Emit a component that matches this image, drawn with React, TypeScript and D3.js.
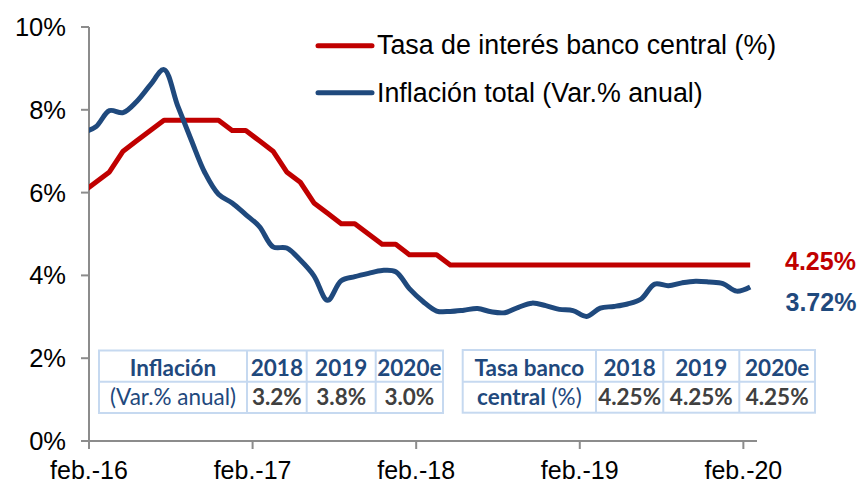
import React from "react";
import * as d3 from "d3";

// Months from Jan 2016 (index -1) to Feb 2020 (index 48)
const monthIndex = [
  -1, 0, 1, 2, 3, 4, 5, 6, 7, 8, 9, 10, 11, 12, 13, 14, 15, 16, 17, 18, 19, 20, 21, 22, 23, 24,
  25, 26, 27, 28, 29, 30, 31, 32, 33, 34, 35, 36, 37, 38, 39, 40, 41, 42, 43, 44, 45, 46, 47, 48,
];

const tasaBanco = [
  6.0, 6.25, 6.5, 7.0, 7.25, 7.5, 7.75, 7.75, 7.75, 7.75, 7.75, 7.5, 7.5, 7.25, 7.0, 6.5, 6.25,
  5.75, 5.5, 5.25, 5.25, 5.0, 4.75, 4.75, 4.5, 4.5, 4.5, 4.25, 4.25, 4.25, 4.25, 4.25, 4.25, 4.25,
  4.25, 4.25, 4.25, 4.25, 4.25, 4.25, 4.25, 4.25, 4.25, 4.25, 4.25, 4.25, 4.25, 4.25, 4.25, 4.25,
];

const inflacion = [
  7.45, 7.59, 7.98, 7.93, 8.2, 8.6, 8.97, 8.1, 7.27, 6.48, 5.96, 5.75, 5.47, 5.18, 4.69, 4.66,
  4.37, 3.99, 3.4, 3.87, 3.97, 4.05, 4.12, 4.09, 3.68, 3.37, 3.14, 3.13, 3.16, 3.2, 3.12, 3.1, 3.23,
  3.33, 3.27, 3.18, 3.15, 3.01, 3.21, 3.25, 3.31, 3.43, 3.79, 3.75, 3.82, 3.86, 3.84, 3.8, 3.62,
  3.72,
];

const yTicks = [0, 2, 4, 6, 8, 10];
const xTickIndex = [0, 12, 24, 36, 48];
const xTickLabels = ["feb.-16", "feb.-17", "feb.-18", "feb.-19", "feb.-20"];

const legendLabels = ["Tasa de interés banco central (%)", "Inflación total (Var.% anual)"];
const endLabels = ["4.25%", "3.72%"];

const tableYears = ["2018", "2019", "2020e"];
const inflTable = ["3.2%", "3.8%", "3.0%"];
const tasaTable = ["4.25%", "4.25%", "4.25%"];

const RED = "#C00000";
const BLUE = "#1F497D";
const AXIS = "#8C8C8C";
const BORDER = "#C6D9F0";
const GRAY = "#404040";

export default function App() {
  const W = 863;
  const H = 484;
  const x = d3.scaleLinear().domain([0, 49]).range([89, 757]);
  const y = d3.scaleLinear().domain([0, 10]).range([441, 27]);

  const redLine = d3
    .line<number>()
    .x((_, i) => x(monthIndex[i] + 0.5))
    .y((d) => y(d));
  const blueLine = d3
    .line<number>()
    .x((_, i) => x(monthIndex[i] + 0.5))
    .y((d) => y(d))
    .curve(d3.curveCatmullRom.alpha(0.5));

  const arial = "'Liberation Sans', Arial, sans-serif";
  const cal = "Lato, 'Open Sans', sans-serif";
  const tfs = 22.5;

  const table = (
    x0: number,
    cols: number[],
    top: number,
    mid: number,
    bottom: number,
    head1: React.ReactNode,
    head2: React.ReactNode,
    values: string[]
  ) => {
    const edges = [x0, ...cols];
    return (
      <g>
        <rect x={x0} y={top} width={cols[cols.length - 1] - x0} height={bottom - top} fill="#fff" stroke={BORDER} strokeWidth={2} />
        <line x1={x0} x2={cols[cols.length - 1]} y1={mid} y2={mid} stroke={BORDER} strokeWidth={2} />
        {cols.slice(0, -1).map((c, i) => (
          <line key={i} x1={c} x2={c} y1={top} y2={bottom} stroke={BORDER} strokeWidth={2} />
        ))}
        <text x={(edges[0] + edges[1]) / 2} y={376} textAnchor="middle" fontFamily={cal} fontSize={tfs} fill={BLUE}>
          {head1}
        </text>
        <text x={(edges[0] + edges[1]) / 2} y={405} textAnchor="middle" fontFamily={cal} fontSize={tfs} fill={BLUE}>
          {head2}
        </text>
        {tableYears.map((t, i) => (
          <text key={t} x={(edges[i + 1] + edges[i + 2]) / 2} y={376} textAnchor="middle" fontFamily={cal} fontSize={tfs} fontWeight="bold" fill={BLUE}>
            {t}
          </text>
        ))}
        {values.map((t, i) => (
          <text key={i} x={(edges[i + 1] + edges[i + 2]) / 2} y={405} textAnchor="middle" fontFamily={cal} fontSize={tfs} fontWeight="bold" fill={GRAY}>
            {t}
          </text>
        ))}
      </g>
    );
  };

  return (
    <div style={{ position: "absolute", left: 0, top: 0 }}>
      <svg width={W} height={H} style={{ display: "block" }}>
        <defs>
          <clipPath id="plot">
            <rect x={x(0)} y={0} width={x(49) - x(0)} height={H} />
          </clipPath>
        </defs>
        <rect width={W} height={H} fill="#fff" />

        {/* Axes */}
        <line x1={x(0)} x2={x(0)} y1={y(10)} y2={y(0)} stroke={AXIS} strokeWidth={2} />
        <line x1={x(0)} x2={x(49)} y1={y(0)} y2={y(0)} stroke={AXIS} strokeWidth={2} />
        {yTicks.map((t) => (
          <g key={t}>
            <line x1={x(0) - 8} x2={x(0)} y1={y(t)} y2={y(t)} stroke={AXIS} strokeWidth={2} />
            <text x={66} y={y(t) + 9} textAnchor="end" fontFamily={arial} fontSize={25.5} fill="#000">
              {t}%
            </text>
          </g>
        ))}
        {xTickIndex.map((t, i) => (
          <g key={t}>
            <line x1={x(t)} x2={x(t)} y1={y(0)} y2={y(0) + 8} stroke={AXIS} strokeWidth={2} />
            <text x={x(t)} y={478.5} textAnchor="middle" fontFamily={arial} fontSize={25} fill="#000">
              {xTickLabels[i]}
            </text>
          </g>
        ))}

        {/* Tables */}
        {table(
          99,
          [247, 306.7, 375.7, 443],
          350.5,
          381.7,
          413,
          <tspan fontWeight="bold">Inflación</tspan>,
          <tspan>(Var.% anual)</tspan>,
          inflTable
        )}
        {table(
          462.7,
          [596, 663.3, 739.3, 815],
          350,
          381.7,
          412.7,
          <tspan fontWeight="bold">Tasa banco</tspan>,
          <>
            <tspan fontWeight="bold">central</tspan>
            <tspan> (%)</tspan>
          </>,
          tasaTable
        )}

        {/* Lines */}
        <g clipPath="url(#plot)">
          <path d={redLine(tasaBanco) || ""} fill="none" stroke={RED} strokeWidth={5} strokeLinejoin="round" />
          <path d={blueLine(inflacion) || ""} fill="none" stroke={BLUE} strokeWidth={5} strokeLinejoin="round" />
        </g>

        {/* End labels */}
        <text x={785} y={270} fontFamily={arial} fontSize={25} fontWeight="bold" fill={RED}>
          {endLabels[0]}
        </text>
        <text x={785.5} y={311} fontFamily={arial} fontSize={25} fontWeight="bold" fill={BLUE}>
          {endLabels[1]}
        </text>

        {/* Legend */}
        <line x1={318} x2={372} y1={45.7} y2={45.7} stroke={RED} strokeWidth={5} strokeLinecap="round" />
        <text x={377} y={54.3} fontFamily={arial} fontSize={26.8} fill="#000">
          {legendLabels[0]}
        </text>
        <line x1={318} x2={372} y1={92.7} y2={92.7} stroke={BLUE} strokeWidth={5} strokeLinecap="round" />
        <text x={377} y={101.5} fontFamily={arial} fontSize={26.8} fill="#000">
          {legendLabels[1]}
        </text>
      </svg>
    </div>
  );
}
